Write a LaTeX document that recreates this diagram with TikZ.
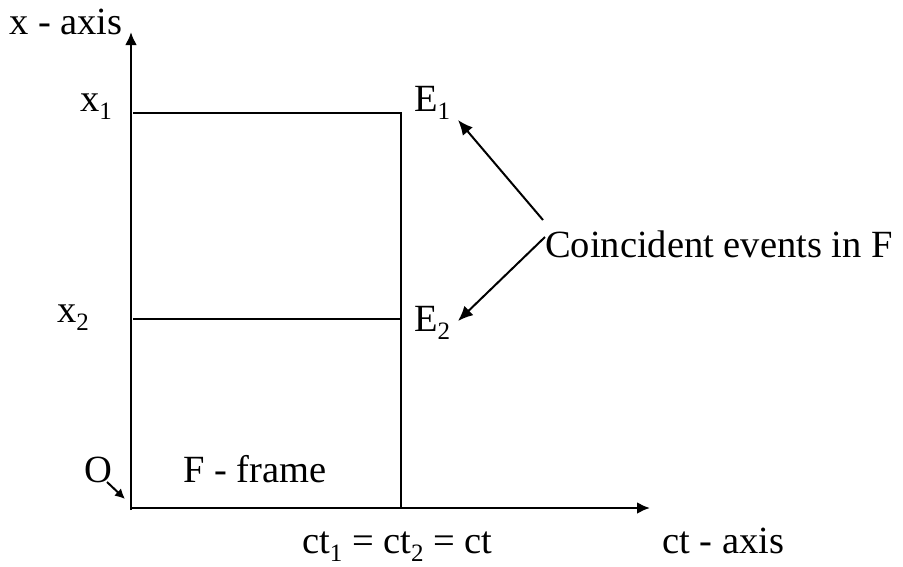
\documentclass[tikz,border=0pt]{standalone}
\usepackage{fontspec}
\setmainfont{Liberation Serif}
\usetikzlibrary{arrows.meta}
\newcommand{\mysub}[1]{\raisebox{-8pt}{\fontsize{25}{26}\selectfont #1}}
\begin{document}
\begin{tikzpicture}[x=1pt,y=-1pt,
  lbl/.style={inner sep=0pt,anchor=base west,font=\fontsize{38.5}{40}\selectfont},
  axis/.style={line width=2.6pt,-{Latex[length=13pt,width=12pt]}},
  thin/.style={line width=2pt},
  pointer/.style={line width=2pt,-{Latex[length=15pt,width=13pt]}}]
\useasboundingbox (0,0) rectangle (903,566);
% coordinates
\coordinate (o) at (131,508);
\coordinate (ytop) at (131,32);
\coordinate (xend) at (650,508);
\coordinate (a1) at (133,113);
\coordinate (b1) at (401,113);
\coordinate (a2) at (133,319);
\coordinate (b2) at (401,319);
\coordinate (bb) at (401,508);
\coordinate (c1) at (543,220);
\coordinate (c2) at (545,237);
\coordinate (e1) at (458,120);
\coordinate (e2) at (458,321);
\coordinate (os) at (107,482);
\coordinate (oe) at (125,499);
% axes
\draw[axis] (131,510) -- (ytop);
\draw[axis] (o) -- (xend);
% lines
\draw[thin] (a1) -- (b1);
\draw[thin] (a2) -- (b2);
\draw[thin] (401,112) -- (bb);
% pointers
\draw[pointer] (c1) -- (e1);
\draw[pointer] (c2) -- (e2);
\draw[line width=2pt,-{Latex[length=10pt,width=10pt]}] (os) -- (oe);
% labels
\node[lbl] (xaxis) at (9,34) {x - axis};
\node[lbl] (x1) at (80,111) {x\mysub{1}};
\node[lbl] (x2) at (57,322) {x\mysub{2}};
\node[lbl] (E1) at (414,111) {E\mysub{1}};
\node[lbl] (E2) at (414,331) {E\mysub{2}};
\node[lbl] (coin) at (545,257) {Coincident events in F};
\node[lbl] (O) at (84,482) {O};
\node[lbl] (fframe) at (183,482) {F - frame};
\node[lbl] (ct) at (302,553) {ct\mysub{1} = ct\mysub{2} = ct};
\node[lbl] (ctaxis) at (662,553) {ct - axis};
\end{tikzpicture}
\end{document}
